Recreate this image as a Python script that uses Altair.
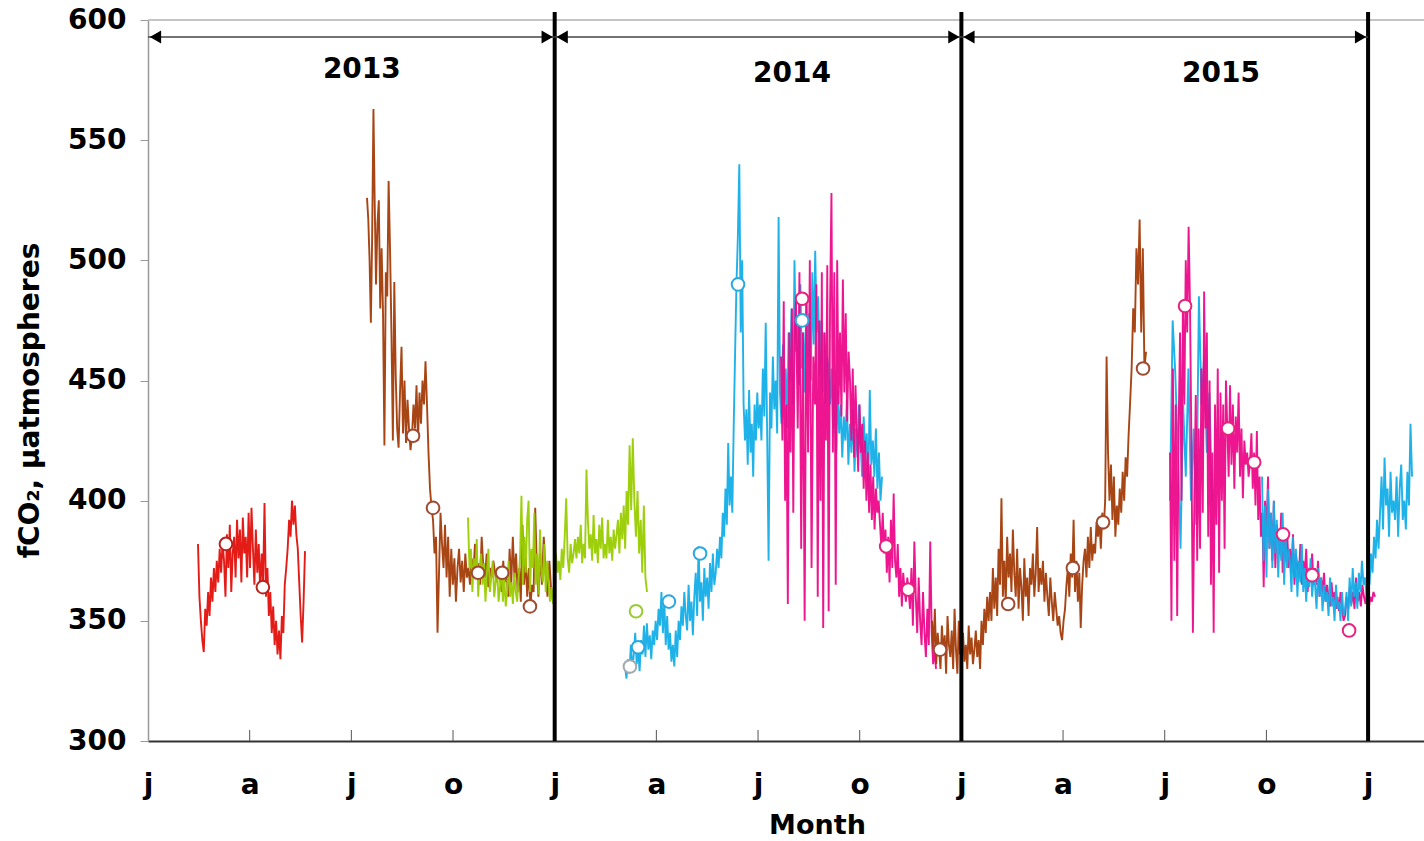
import json
import altair as alt
import numpy as np
import pandas as pd

# ---------------- data (x = months since 1 Jan 2013, y = fCO2 in µatm) ----------------
MONTH_TICKS = list(range(0, 37, 3))
MONTH_LABELS = ["j", "a", "j", "o"]
MINOR_TICKS = [3, 6, 9, 15, 18, 21, 27, 30, 33]
Y_TICKS = [300, 350, 400, 450, 500, 550, 600]
YEAR_BOUNDS = [12, 24, 36]
YEAR_STARTS = [0, 12, 24]
YEAR_ENDS = [12, 24, 36]
YEAR_LABELS = ["2013", "2014", "2015"]
YEAR_LABEL_POS = [6.31, 19.0, 31.66]
YEAR_LABEL_Y = [50, 54, 54]

RED_2013 = [
    (1.475, 4.633, [382, 360, 350, 342, 337, 355, 348, 362, 352, 368, 358, 372, 362, 375, 366, 380,
                    370, 383, 375, 360, 386, 372, 390, 362, 378, 385, 368, 392, 376, 388, 366, 393,
                    378, 385, 368, 395, 372, 397, 380, 365, 388, 370, 382, 362, 378, 366, 399, 360,
                    372, 352, 362, 345, 356, 340, 350, 336, 346, 334, 352, 345, 365, 372, 380, 392,
                    385, 400, 390, 398, 386, 380, 366, 352, 341, 358, 379]),
]

BROWN_2013 = [
    (6.462, 6.728, [526, 517, 500, 474, 510, 563, 523]),
    (6.728, 7.141, [490, 515, 525, 480, 505, 478, 423, 495, 485, 533]),
    (7.141, 7.436, [505, 470, 425, 491, 452, 430, 422]),
    (7.436, 7.790, [445, 464, 428, 450, 424, 442, 430, 421]),
    (7.790, 8.232, [427, 440, 430, 448, 425, 445, 432, 450, 440, 458]),
    (8.232, 8.410, [440, 420, 405, 397]),
    (8.410, 8.764, [392, 378, 385, 345, 370, 395, 382, 372]),
    (8.764, 9.501, [390, 368, 385, 360, 380, 365, 376, 358, 372, 380, 366, 375, 362, 378, 368, 372]),
    (9.501, 10.387, [365, 376, 370, 382, 368, 374, 365, 385, 372, 368, 378, 364, 372, 368, 375, 370,
                     366, 372]),
    (10.387, 11.567, [368, 362, 375, 366, 372, 360, 380, 365, 385, 368, 378, 362, 372, 358, 390, 365,
                      376, 360, 372, 356, 365, 362, 397, 372, 360]),
    (11.567, 12.009, [378, 365, 385, 370, 360, 375, 362, 358, 355]),
]

GREEN_2013_14 = [
    (9.442, 10.387, [393, 372, 380, 362, 376, 368, 384, 360, 372, 378, 365, 374, 358, 370, 380, 362,
                     368, 375, 360, 366, 372, 358]),
    (10.387, 10.977, [364, 372, 358, 368, 356, 362, 375, 360, 366, 357, 370, 362, 358, 368]),
    (10.977, 11.862, [376, 402, 365, 385, 370, 392, 400, 362, 380, 372, 395, 365, 378, 361, 388, 370,
                      366, 382, 362, 375, 366]),
    (11.862, 12.600, [358, 364, 357, 368, 378, 370, 375, 367, 380, 372, 385, 401, 376, 370, 382, 374, 378]),
    (12.600, 13.485, [384, 376, 385, 378, 390, 374, 382, 376, 413, 392, 380, 386, 375, 394, 378, 384,
                      374, 390, 380, 393, 376]),
    (13.485, 14.164, [382, 376, 392, 378, 385, 375, 388, 380, 386, 392, 378, 395, 384, 398, 380, 404]),
    (14.164, 14.724, [390, 423, 396, 426, 400, 385, 404, 378, 392, 370, 398, 368, 362]),
]

BLUE_2014 = [
    (14.075, 15.108, [331, 326, 334, 328, 340, 330, 336, 345, 332, 338, 329, 342, 336, 348, 335, 349,
                      338, 344, 334, 346, 340, 350, 342, 355]),
    (15.108, 15.698, [348, 362, 345, 358, 340, 352, 338, 345, 333, 340, 331, 346, 335, 350]),
    (15.698, 16.878, [342, 356, 348, 362, 352, 346, 365, 350, 358, 344, 360, 370, 352, 381, 358, 366,
                      350, 372, 360, 368, 355, 374, 362, 378, 365, 370, 380, 372]),
    (16.878, 17.321, [385, 376, 395, 385, 405, 390, 424, 398, 410, 395, 430]),
    (17.321, 17.616, [460, 490, 510, 540, 470, 500, 440]),
    (17.616, 18.058, [425, 438, 415, 446, 420, 432, 410, 440, 425, 445, 430]),
    (18.058, 18.944, [440, 425, 455, 435, 474, 428, 375, 445, 430, 460, 438, 450, 428, 518, 445, 432,
                      465, 440, 455, 430, 470]),
    (18.944, 20.124, [450, 480, 440, 500, 462, 475, 448, 490, 455, 470, 445, 485, 460, 478, 450, 495,
                      465, 504, 470, 485, 452, 475, 445, 470, 440, 460, 455]),
    (20.124, 21.658, [440, 455, 430, 448, 420, 446, 428, 440, 418, 435, 425, 442, 415, 432, 420, 438,
                      412, 430, 418, 440, 425, 410, 435, 420, 428, 405, 446, 415, 425, 410, 430, 405,
                      420, 400, 410]),
]

PINK_2014 = [
    (18.678, 19.120, [460, 425, 483, 400, 440, 357, 470, 420, 480, 395, 470]),
    (19.120, 19.681, [484, 430, 495, 380, 470, 350, 485, 420, 500, 372, 460]),
    (19.681, 20.124, [440, 490, 360, 475, 400, 495, 347, 470, 425, 498, 354]),
    (20.124, 20.419, [480, 528, 420, 495, 365, 500, 440]),
    (20.419, 20.714, [470, 435, 492, 445, 478, 433, 462]),
    (20.714, 21.157, [450, 425, 455, 418, 448, 430, 412, 440, 420, 432, 405]),
    (21.157, 21.599, [425, 400, 420, 395, 415, 392, 410, 388, 405, 395, 400]),
    (21.599, 22.042, [390, 381, 395, 378, 388, 370, 385, 366, 392, 372, 403]),
    (22.042, 22.484, [375, 368, 382, 360, 372, 356, 370, 363, 358, 368, 362]),
    (22.484, 23.252, [355, 372, 348, 383, 360, 345, 368, 350, 340, 362, 345, 335, 355, 340, 383, 345,
                      332, 338, 330]),
]

BROWN_2014_15 = [
    (23.134, 24.048, [350, 338, 355, 332, 345, 338, 330, 348, 336, 344, 328, 352, 340, 335, 346, 330,
                      355, 338, 328, 350, 336, 342]),
    (24.048, 24.845, [345, 333, 340, 330, 348, 336, 343, 332, 338, 346, 335, 342, 330, 350, 340, 355,
                      345, 360, 350]),
    (24.845, 25.435, [362, 350, 372, 355, 368, 352, 380, 365, 401, 360, 375, 357, 385, 368]),
    (25.435, 26.320, [378, 362, 388, 370, 360, 380, 355, 372, 364, 350, 376, 360, 368, 352, 372, 365,
                      378, 360, 370, 389, 362]),
    (26.320, 27.058, [372, 365, 375, 358, 370, 360, 352, 368, 358, 350, 362, 355, 348, 352, 345, 342, 350]),
    (27.058, 27.648, [355, 365, 372, 360, 378, 368, 392, 362, 375, 358, 370, 347, 365, 375]),
    (27.648, 28.327, [380, 368, 385, 372, 389, 375, 382, 378, 391, 385, 392, 380, 395, 388, 400, 460]),
    (28.327, 28.976, [420, 400, 415, 392, 410, 385, 398, 390, 405, 395, 412, 400, 418, 410, 427]),
    (28.976, 29.448, [440, 455, 480, 470, 505, 490, 517, 470, 505, 455, 462]),
]

BLUE_2015_A = [
    (30.156, 31.396, [400, 475, 453, 420, 380, 440, 410, 455, 400, 430, 390, 485, 440, 460, 420, 445, 400]),
]

PINK_2015 = [
    (30.156, 30.452, [420, 350, 455, 375, 440, 352, 430]),
    (30.452, 30.747, [470, 400, 481, 440, 500, 470, 514]),
    (30.747, 31.042, [480, 420, 345, 400, 444, 375, 430]),
    (31.042, 31.484, [380, 455, 395, 487, 430, 470, 385, 450, 365, 420, 345]),
    (31.484, 31.927, [440, 390, 455, 370, 445, 400, 440, 380, 450, 430, 410]),
    (31.927, 32.517, [448, 415, 440, 405, 435, 420, 445, 410, 430, 401, 425, 415, 420, 410]),
    (32.517, 32.960, [416, 428, 405, 420, 398, 429, 392, 410, 385, 395, 364]),
    (32.960, 33.697, [400, 385, 410, 380, 395, 375, 400, 372, 390, 386, 378, 395, 370, 385, 375, 388, 372]),
    (33.697, 34.435, [380, 370, 386, 365, 378, 372, 368, 382, 365, 375, 369, 380, 362, 372, 366, 378, 365]),
    (34.435, 35.320, [372, 365, 375, 360, 368, 362, 370, 358, 365, 360, 356, 366, 358, 362, 355, 360,
                      354, 362, 356, 350]),
    (35.320, 36.205, [352, 360, 355, 364, 357, 362, 355, 368, 358, 362, 356, 365, 360, 357, 363, 355,
                      360, 358, 362, 360]),
]

BLUE_2015_B = [
    (32.871, 33.697, [410, 375, 398, 368, 405, 380, 395, 372, 400, 378, 392, 368, 388, 375, 395, 365, 385, 372, 380]),
    (33.697, 34.435, [375, 362, 385, 368, 380, 360, 375, 366, 382, 362, 372, 358, 370, 364, 376, 360, 368]),
    (34.435, 35.320, [365, 355, 372, 360, 368, 354, 365, 358, 362, 352, 368, 356, 360, 350, 365, 355,
                      358, 350, 362, 352]),
    (35.320, 35.910, [355, 362, 350, 368, 356, 372, 360, 366, 355, 370, 362, 375, 365]),
    (35.910, 36.353, [368, 360, 372, 365, 378, 370, 385, 376, 392, 380]),
    (36.353, 36.796, [395, 410, 388, 418, 398, 405, 385, 412, 395, 400]),
    (36.796, 37.297, [392, 410, 385, 405, 415, 392, 400, 388, 412, 398, 432, 410]),
]

# discrete (bottle sample) points
CIRC_M = [2.30, 3.39, 7.82, 8.41, 9.74, 10.45, 11.27, 14.22, 14.40, 14.46, 15.37, 16.29, 17.41,
          19.30, 19.30, 21.78, 22.43, 23.37, 25.38, 27.29, 28.18, 29.36, 30.60, 31.87, 32.64,
          33.49, 34.35, 35.44]
CIRC_V = [382, 364, 427, 397, 370, 370, 356, 331, 354, 339, 358, 378, 490, 484, 475, 381, 363,
          338, 357, 372, 391, 455, 481, 430, 416, 386, 369, 346]
CIRC_C = ["red", "red", "brown", "brown", "brown", "brown", "brown", "gray", "green", "blue",
          "blue", "blue", "blue", "pink", "blue", "pink", "pink", "brown", "brown", "brown",
          "brown", "brown", "pink", "pink", "pink", "pink", "pink", "pink"]

LINE_COLORS = {"red": "#e2100c", "brown": "#a33b08", "green": "#99cc00",
               "blue": "#12aee8", "pink": "#ec0a8a"}
CIRC_STROKE = {"red": "#b8221c", "brown": "#a04a30", "gray": "#a0aab0", "green": "#99cc33",
               "blue": "#2aa8e0", "pink": "#e6237e"}


def series(chunks):
    xs, ys = [], []
    for i, (a, b, vals) in enumerate(chunks):
        last = i == len(chunks) - 1
        xs.extend(np.linspace(a, b, len(vals), endpoint=last))
        ys.extend(vals)
    return pd.DataFrame({"m": xs, "v": ys})


FONT = "DejaVu Sans"
FS = 28

xscale = alt.Scale(domain=[0, 37.65], nice=False, zero=False)
yscale = alt.Scale(domain=[300, 600], nice=False, zero=False)

label_expr = json.dumps(MONTH_LABELS) + "[round(datum.value / 3) % 4]"

xaxis = alt.Axis(values=MONTH_TICKS, labelExpr=label_expr, ticks=False, tickSize=0,
                 domainColor="#333333", domainWidth=2, grid=False, labelFlush=False,
                 labelFont=FONT, labelFontSize=FS, labelFontWeight="bold", labelColor="black",
                 labelPadding=30, labelBaseline="top",
                 title="Month", titleFont=FONT, titleFontSize=27, titleFontWeight="bold",
                 titleColor="black", titleX=669, titleY=84, titleBaseline="middle",
                 titleAlign="center")
yaxis = alt.Axis(values=Y_TICKS, grid=False, domainColor="#999999", domainWidth=1.5,
                 tickColor="#999999", tickSize=8, labelFont=FONT, labelFontSize=FS,
                 labelFontWeight="bold", labelColor="black", labelPadding=14,
                 title="fCO₂, μatmospheres", titleFont=FONT, titleFontSize=FS,
                 titleFontWeight="bold", titleColor="black", titleX=-118, titleY=380,
                 titleAlign="center", titleBaseline="middle", titleAngle=270)

X = alt.X("m:Q", scale=xscale, axis=xaxis)
Y = alt.Y("v:Q", scale=yscale, axis=yaxis)


def line(chunks, color):
    return alt.Chart(series(chunks)).mark_line(color=LINE_COLORS[color], strokeWidth=1.9,
                                               opacity=0.95).encode(x=X, y=Y)


top_rule = alt.Chart(pd.DataFrame({"v": [600]})).mark_rule(color="#c4c4c4", strokeWidth=2).encode(
    y=Y, x=alt.value(0), x2=alt.value(1276))

minor = alt.Chart(pd.DataFrame({"m": MINOR_TICKS})).mark_rule(color="#555555", strokeWidth=1).encode(
    x=X, y=alt.value(710), y2=alt.value(721))

circ_df = pd.DataFrame({"m": CIRC_M, "v": CIRC_V, "c": [CIRC_STROKE[c] for c in CIRC_C]})
circles = alt.Chart(circ_df).mark_point(shape="circle", size=160, strokeWidth=2, opacity=1,
                                        filled=False).encode(
    x=X, y=Y, fill=alt.value("white"), stroke=alt.Stroke("c:N", scale=None))

vlines = alt.Chart(pd.DataFrame({"m": YEAR_BOUNDS})).mark_rule(color="black", strokeWidth=4).encode(
    x=X, y=alt.value(-8), y2=alt.value(721))

arr_df = pd.DataFrame({"m": YEAR_STARTS, "m2": YEAR_ENDS})
arrow_lines = alt.Chart(arr_df).mark_rule(color="#444444", strokeWidth=1.5).encode(
    x=X, x2="m2:Q", y=alt.value(17))
heads_l = alt.Chart(pd.DataFrame({"m": YEAR_STARTS})).mark_point(
    shape="triangle-left", size=170, filled=True, color="black", opacity=1, xOffset=7.5).encode(
    x=X, y=alt.value(17))
heads_r = alt.Chart(pd.DataFrame({"m": YEAR_ENDS})).mark_point(
    shape="triangle-right", size=170, filled=True, color="black", opacity=1, xOffset=-7.5).encode(
    x=X, y=alt.value(17))

year_df = pd.DataFrame({"m": YEAR_LABEL_POS, "t": YEAR_LABELS, "yy": YEAR_LABEL_Y})
years = alt.Chart(year_df).mark_text(font=FONT, fontSize=FS, fontWeight="bold", color="black",
                                     baseline="middle", align="center").encode(
    x=X, y=alt.Y("yy:Q", scale=None), text="t:N")

chart = alt.layer(
    top_rule,
    line(RED_2013, "red"),
    line(BROWN_2013, "brown"),
    line(GREEN_2013_14, "green"),
    line(BLUE_2014, "blue"),
    line(PINK_2014, "pink"),
    line(BROWN_2014_15, "brown"),
    line(BLUE_2015_A, "blue"),
    line(PINK_2015, "pink"),
    line(BLUE_2015_B, "blue"),
    minor,
    circles,
    vlines,
    arrow_lines,
    heads_l,
    heads_r,
    years,
).properties(
    width=1276, height=721,
    padding={"left": 148, "top": 20, "right": 0, "bottom": 100},
    autosize=alt.AutoSizeParams(type="none"),
    background="white",
).configure_view(stroke=None)

chart.save("out.html", embed_options={"renderer": "svg", "actions": False})
